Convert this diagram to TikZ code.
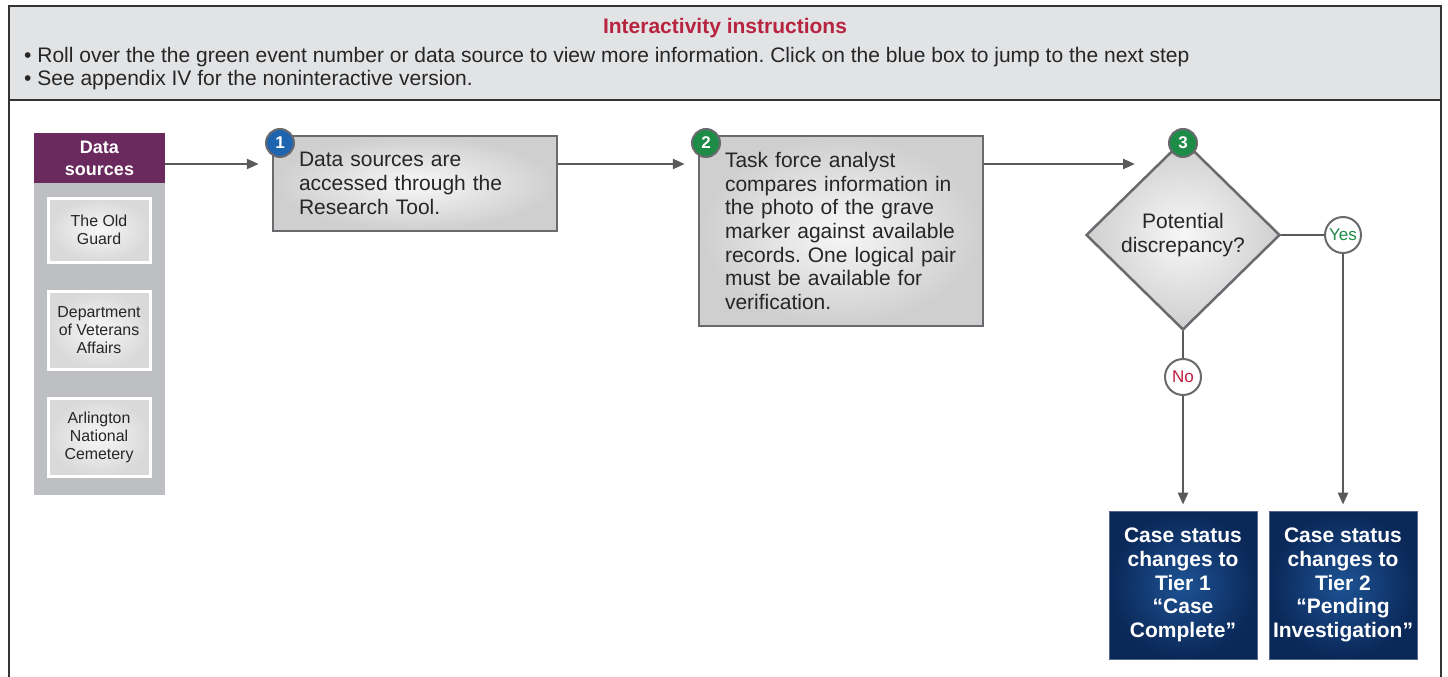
\documentclass[tikz,border=0pt]{standalone}
\usepackage{fontspec}
\setmainfont{Liberation Sans}
\usepackage{tikz}
\usetikzlibrary{shapes.geometric, arrows.meta, positioning, calc}
\definecolor{headgray}{RGB}{226,227,229}
\definecolor{titlered}{RGB}{183,36,64}
\definecolor{sourcepurple}{RGB}{107,42,94}
\definecolor{columngray}{RGB}{190,191,195}
\definecolor{edgegray}{RGB}{105,106,110}
\definecolor{linegray}{RGB}{90,90,92}
\definecolor{stepblue}{RGB}{30,100,175}
\definecolor{stepgreen}{RGB}{28,140,70}
\definecolor{tiernavy}{RGB}{10,40,88}
\definecolor{tierlight}{RGB}{30,82,148}
\definecolor{nored}{RGB}{190,30,60}
\frenchspacing

\begin{document}
\begin{tikzpicture}[
    x=1pt, y=-1pt,
    frameline/.style={draw=black!80, line width=1.5pt},
    note/.style={anchor=base west, inner sep=0pt, text=black!85,
                 font=\fontsize{21}{23.7}\selectfont},
    dshead/.style={rectangle, fill=sourcepurple, text=white, align=center,
                   minimum width=131pt, minimum height=50pt, inner sep=0pt,
                   font=\bfseries\fontsize{18}{22}\selectfont},
    source/.style={rectangle, draw=white, line width=3pt, inner color=gray!6,
                   outer color=gray!30, minimum width=102pt, inner sep=0pt,
                   align=center, text=black!85, font=\fontsize{15.9}{18}\selectfont},
    process/.style={rectangle, draw=edgegray, line width=2.5pt, inner color=gray!6,
                    outer color=gray!38, minimum width=284pt, minimum height=#1,
                    text width=232pt, inner xsep=26pt, align=left, text=black!85,
                    font=\fontsize{21}{23.7}\selectfont},
    decision/.style={diamond, draw=edgegray, line width=2.5pt, inner color=gray!6,
                     outer color=gray!38, minimum width=194pt, minimum height=190pt,
                     inner sep=0pt, align=center, text=black!85,
                     font=\fontsize{21}{24}\selectfont},
    badge/.style={circle, fill=#1, draw=edgegray, line width=2pt, minimum size=28pt,
                  inner sep=0pt, text=white, font=\bfseries\fontsize{17}{17}\selectfont},
    answer/.style={circle, fill=white, draw=edgegray, line width=2pt, minimum size=36pt,
                   inner sep=0pt, font=\fontsize{17}{17}\selectfont},
    tier/.style={rectangle, draw=tiernavy!70, line width=0.8pt, inner color=tierlight,
                 outer color=tiernavy, minimum width=148pt, minimum height=148pt,
                 inner sep=0pt, align=center, text=white,
                 font=\bfseries\fontsize{21}{23.7}\selectfont},
    link/.style={draw=linegray, line width=2.5pt},
    flow/.style={link, -{Triangle[length=12pt,width=10pt]}}
]
    \useasboundingbox (0,0) rectangle (1448,677);

    % Header
    \fill[headgray] (9,6) rectangle (1441,100);
    \draw[frameline] (9,100) -- (1441,100);
    \draw[frameline] (9,690) -- (9,6) -- (1441,6) -- (1441,690);
    \node[anchor=base, text=titlered, font=\bfseries\fontsize{21}{24}\selectfont] (title) at (725,34) {Interactivity instructions};
    \node[note] (note1) at (24,62.5) {• Roll over the the green event number or data source to view more information. Click on the blue box to jump to the next step};
    \node[note] (note2) at (24,85.5) {• See appendix IV for the noninteractive version.};

    % Data sources
    \node[rectangle, fill=columngray, minimum width=131pt, minimum height=312pt, inner sep=0pt] (dscol) at (99.5,339) {};
    \node[dshead] (dshead) at (99.5,158) {Data\\sources};
    \node[source, minimum height=64pt] (oldguard) at (99,230) {The Old\\Guard};
    \node[source, minimum height=78pt] (vetaffairs) at (99,330) {Department\\of Veterans\\Affairs};
    \node[source, minimum height=78pt] (cemetery) at (99,437) {Arlington\\National\\Cemetery};

    % Steps
    \node[process=95pt] (access) at (415,183.5) {Data sources are\\accessed through the\\Research Tool.};
    \node[process=190pt] (compare) at (841,231) {Task force analyst\\compares information in\\the photo of the grave\\marker against available\\records. One logical pair\\must be available for\\verification.};
    \node[decision] (discrepancy) at (1183,235) {Potential\\discrepancy?};

    % Step numbers
    \node[badge=stepblue] (num1) at (280,143) {1};
    \node[badge=stepgreen] (num2) at (706,143) {2};
    \node[badge=stepgreen] (num3) at (1183,143) {3};

    % Outcomes
    \node[answer, text=stepgreen] (yes) at (1343,235) {Yes};
    \node[answer, text=nored] (no) at (1183,377) {No};
    \node[tier] (tier1) at (1183,585) {Case status\\changes to\\Tier 1\\“Case\\Complete”};
    \node[tier] (tier2) at (1343,585) {Case status\\changes to\\Tier 2\\“Pending\\Investigation”};

    % Connectors
    \coordinate (row) at (0,164);
    \draw[flow, shorten >=13pt] (dshead.east |- row) -- (access.west |- row);
    \draw[flow, shorten >=13pt] (access.east |- row) -- (compare.west |- row);
    \draw[flow, shorten >=48pt] (compare.east |- row) -- (discrepancy.north |- row);
    \draw[link] (discrepancy.east) -- (yes);
    \draw[link] (discrepancy.south) -- (no);
    \draw[flow, shorten >=6pt] (no) -- (tier1);
    \draw[flow, shorten >=6pt] (yes) -- (tier2);
\end{tikzpicture}
\end{document}
